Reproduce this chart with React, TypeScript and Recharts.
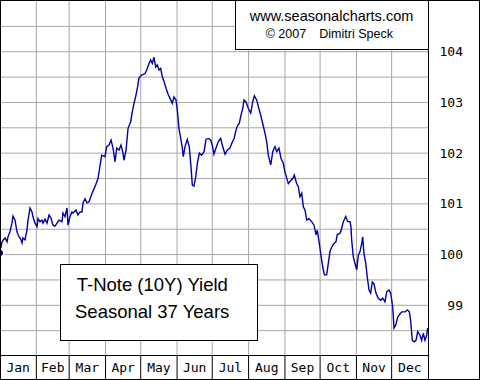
import React from 'react';
import { LineChart, Line, XAxis, YAxis, ReferenceLine } from 'recharts';

// day of year (0 = Jan 1) and seasonal index value
const days = [
  0, 1.7, 4.3, 6, 6.8, 8.5, 10.2, 11.1, 12.8, 14.5, 15.4, 17.9, 18.8, 19.6, 21.3, 23, 23.9, 25.6, 27.3, 28.1,
  29.8, 31.6, 32.4, 34.1, 35.8, 36.7, 38.4, 40.1, 41.8, 43.5, 45.2, 46.9, 48.6, 50.3, 52.9, 53.7, 55.4, 57.1, 58, 59.7,
  61.4, 62.3, 64.8, 66.5, 68.2, 69.9, 70.8, 72.5, 74.2, 75.9, 78.5, 81, 83.6, 85.3, 86.7, 89.5, 91, 93, 94.7, 96.4,
  98.1, 99.5, 101.5, 103.2, 104.9, 105.7, 107.5, 109.2, 111.5, 112.6, 114.3, 116, 117.4, 118.5, 120.8, 123.7, 125.1, 127.1, 128.5, 129.9,
  131.3, 132.8, 134.1, 135.6, 137, 138.4, 139.9, 141.6, 143.5, 145.6, 146.9, 148.4, 150.1, 151.2, 152.6, 154.1, 155.5, 156.3, 157.8, 159.7,
  161.4, 162.9, 164, 165.4, 166.9, 168.3, 170, 172, 174, 175.7, 177.6, 179.7, 181, 182.5, 184.2, 186.2, 188.2, 189.9, 191.9, 193.8,
  196.1, 197.6, 199.6, 201.3, 202.7, 204.1, 205.5, 207, 208.1, 209.8, 211.8, 213.8, 215.5, 216.9, 218.9, 220.3, 222.3, 224, 226, 227.4,
  228.8, 230.9, 232.6, 234.5, 236, 237.9, 239.6, 241.6, 243, 245.9, 247.3, 249.6, 251, 253, 254.4, 255.8, 257.3, 258.7, 260.1, 261.6,
  263.5, 265.8, 267.8, 269.5, 270.6, 272.3, 273.7, 275.2, 276.6, 278.6, 280, 281.4, 282.9, 284.8, 286.5, 287.6, 290, 291.4, 292.8, 294.8,
  296.5, 298.5, 299.3, 299.9, 301.3, 302.7, 304.2, 305.6, 307, 308.5, 309.3, 310.4, 311.9, 313.2, 314.7, 316.1, 317.5, 318.9, 320.6, 322.6,
  324.7, 326.4, 328.3, 329.8, 331.7, 333.2, 334.9, 336, 337.5, 339.2, 340.5, 342.6, 345.4, 347.3, 349.1, 350.3, 351.6, 353.3, 354.8, 356.2,
  358.2, 359.6, 361, 362.4, 363.9, 364.7,
];
const values = [
  100.03, 100.25, 100.33, 100.25, 100.35, 100.45, 100.62, 100.76, 100.68, 100.45, 100.39, 100.29, 100.23, 100.33, 100.29, 100.48, 100.68, 100.92, 100.84, 100.75,
  100.62, 100.55, 100.71, 100.65, 100.68, 100.62, 100.7, 100.62, 100.78, 100.72, 100.58, 100.56, 100.62, 100.68, 100.65, 100.82, 100.75, 100.92, 100.58, 100.75,
  100.84, 100.82, 100.88, 100.78, 100.84, 100.84, 101.02, 101.1, 101.02, 101.04, 101.21, 101.34, 101.5, 101.75, 101.96, 101.93, 102.13, 102.16, 102.26, 102.1,
  101.83, 102.1, 102.06, 102.16, 102.0, 101.86, 102.06, 102.49, 102.62, 102.79, 102.98, 103.15, 103.31, 103.48, 103.54, 103.57, 103.64, 103.77, 103.84, 103.77,
  103.89, 103.7, 103.74, 103.64, 103.67, 103.51, 103.41, 103.28, 103.15, 103.05, 102.98, 103.11, 103.05, 102.85, 102.49, 102.29, 102.1, 101.93, 102.13, 102.27,
  102.13, 101.73, 101.37, 101.35, 101.53, 101.8, 102.0, 101.96, 102.03, 102.27, 102.29, 102.26, 102.16, 101.98, 102.1, 102.23, 102.29, 102.13, 101.98, 102.06,
  102.1, 102.19, 102.29, 102.46, 102.55, 102.59, 102.75, 102.88, 103.05, 103.01, 102.88, 102.79, 103.01, 103.13, 103.05, 102.92, 102.75, 102.59, 102.39, 102.23,
  101.96, 101.77, 102.03, 102.13, 102.03, 102.1, 101.9, 101.8, 101.63, 101.4, 101.44, 101.5, 101.57, 101.4, 101.34, 101.14, 101.21, 100.94, 100.88, 100.68,
  100.71, 100.65, 100.58, 100.39, 100.48, 100.22, 99.99, 99.76, 99.6, 99.6, 99.83, 100.06, 100.15, 100.22, 100.25, 100.39, 100.42, 100.52, 100.65, 100.75,
  100.65, 100.65, 100.55, 100.29, 99.96, 99.83, 99.7, 99.99, 100.06, 100.22, 100.35, 100.02, 99.83, 99.56, 99.3, 99.24, 99.46, 99.43, 99.24, 99.14,
  99.1, 99.14, 99.07, 99.27, 99.3, 99.24, 98.97, 98.55, 98.61, 98.77, 98.81, 98.87, 98.87, 98.91, 98.87, 98.68, 98.31, 98.28, 98.31, 98.48,
  98.41, 98.31, 98.45, 98.31, 98.41, 98.55,
];

const monthNames = ['Jan', 'Feb', 'Mar', 'Apr', 'May', 'Jun', 'Jul', 'Aug', 'Sep', 'Oct', 'Nov', 'Dec'];
const monthStarts = [0, 31, 59, 90, 120, 151, 181, 212, 243, 273, 304, 334];
const monthMids = [15.5, 45, 74.5, 105, 135.5, 166, 196.5, 227.5, 258, 288.5, 319, 349.5];
const yLabels = [99, 100, 101, 102, 103, 104];
const yGrid = [98.5, 99, 99.5, 100, 100.5, 101, 101.5, 102, 102.5, 103, 103.5, 104, 104.5];

const data = days.map((d, i) => ({ d, v: values[i] }));

const monoFont = '"DejaVu Sans Mono", monospace';
const sansFont = '"Liberation Sans", Arial, sans-serif';

const MonthTick = (props: any) => {
  const { x, y, payload } = props;
  const idx = monthMids.indexOf(payload.value);
  if (idx >= 0) {
    return (
      <text x={x} y={y + 17} textAnchor="middle" fontFamily={monoFont} fontSize={13} fill="#000">
        {monthNames[idx]}
      </text>
    );
  }
  return <line x1={x} x2={x} y1={y} y2={y + 25} stroke="#000" strokeWidth={1} />;
};

const ValueTick = (props: any) => {
  const { x, y, payload } = props;
  return (
    <text x={x + 35} y={y + 4.5} textAnchor="end" fontFamily={monoFont} fontSize={13} fill="#000">
      {payload.value}
    </text>
  );
};

export default function App() {
  return (
    <div style={{ position: 'absolute', left: 0, top: 0, width: 480, height: 380, background: '#fff' }}>
      <LineChart width={480} height={380} data={data} margin={{ top: 0, right: 0, bottom: 0, left: 0 }}>
        <XAxis
          dataKey="d"
          type="number"
          domain={[0, 365]}
          ticks={[...monthStarts.slice(1), ...monthMids]}
          interval={0}
          height={25}
          tickSize={0}
          tickMargin={0}
          axisLine={false}
          tickLine={false}
          tick={<MonthTick />}
        />
        <YAxis
          orientation="right"
          type="number"
          domain={[98.02, 105.02]}
          ticks={yLabels}
          interval={0}
          width={52}
          tickSize={0}
          tickMargin={0}
          axisLine={false}
          tickLine={false}
          allowDataOverflow
          tick={<ValueTick />}
        />
        {yGrid.map((v) => (
          <ReferenceLine key={'h' + v} y={v} stroke="#a6a6a6" strokeWidth={1} />
        ))}
        {monthStarts.slice(1).map((d) => (
          <ReferenceLine key={'v' + d} x={d} stroke="#a6a6a6" strokeWidth={1} />
        ))}
        <Line
          type="linear"
          dataKey="v"
          stroke="#0000a8"
          strokeWidth={1.4}
          dot={false}
          isAnimationActive={false}
        />
      </LineChart>
      <svg width={480} height={380} style={{ position: 'absolute', left: 0, top: 0, pointerEvents: 'none' }}>
        <rect x={0.5} y={0.5} width={479} height={379} fill="none" stroke="#000" />
        <line x1={428.5} x2={428.5} y1={0} y2={380} stroke="#000" />
        <line x1={0} x2={428.5} y1={355.5} y2={355.5} stroke="#000" />
        <rect x={235.5} y={0.5} width={193} height={49} fill="#fff" stroke="#000" />
        <text x={331.5} y={20.7} textAnchor="middle" fontFamily={sansFont} fontSize={14.5} fill="#000">
          www.seasonalcharts.com
        </text>
        <text fontFamily={sansFont} fontSize={12.5} fill="#000" y={37.7}>
          <tspan x={265.7}>© 2007</tspan>
          <tspan x={319.3}>Dimitri Speck</tspan>
        </text>
        <rect x={60.5} y={264.5} width={197} height={76} fill="#fff" stroke="#000" />
        <text x={76.7} y={291} fontFamily={sansFont} fontSize={18.5} fill="#000">
          T-Note (10Y) Yield
        </text>
        <text x={75} y={318.3} fontFamily={sansFont} fontSize={18.5} fill="#000">
          Seasonal 37 Years
        </text>
      </svg>
    </div>
  );
}
